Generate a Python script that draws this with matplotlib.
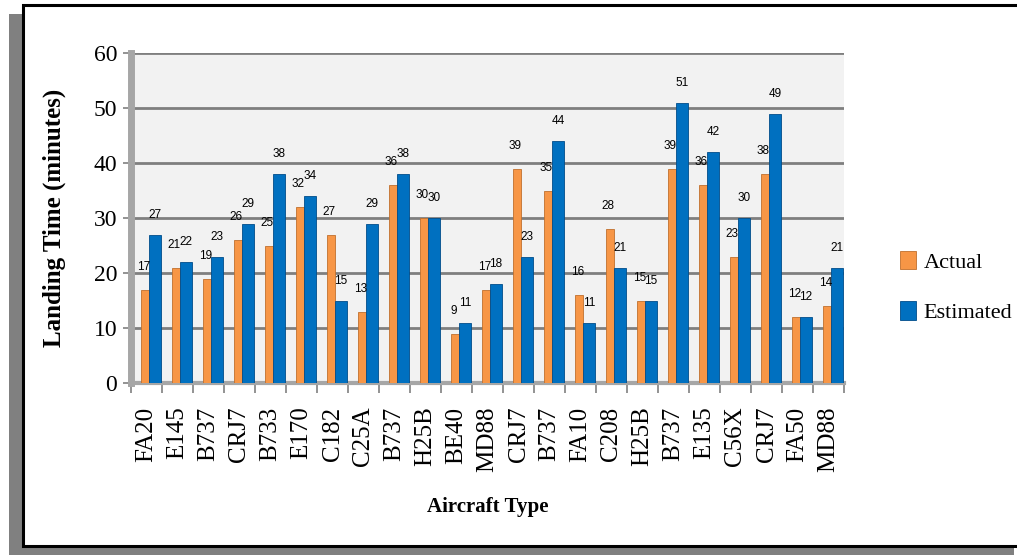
import matplotlib.pyplot as plt
import numpy as np
from matplotlib.patches import Rectangle

# aircraft types and landing times (minutes)
aircraft = ["FA20", "E145", "B737", "CRJ7", "B733", "E170", "C182", "C25A", "B737",
            "H25B", "BE40", "MD88", "CRJ7", "B737", "FA10", "C208", "H25B", "B737",
            "E135", "C56X", "CRJ7", "FA50", "MD88"]
actual = [17, 21, 19, 26, 25, 32, 27, 13, 36, 30, 9, 17, 39, 35, 16, 28, 15, 39, 36, 23, 38, 12, 14]
estimated = [27, 22, 23, 29, 38, 34, 15, 29, 38, 30, 11, 18, 23, 44, 11, 21, 15, 51, 42, 30, 49, 12, 21]

orange = "#F79646"
blue = "#0070C0"

fig = plt.figure(figsize=(10.17, 5.55), dpi=100)
W, H = 1017, 555

# frame with grey drop shadow
fig.patches.append(Rectangle((9 / W, 0), 1005 / W, 1 - 14 / H, transform=fig.transFigure,
                             facecolor="#808080", edgecolor="none", zorder=0))
fig.patches.append(Rectangle((23 / W, 1 - 546 / H), 1.0, 541 / H, transform=fig.transFigure,
                             facecolor="white", edgecolor="black", lw=2.2, zorder=1))

ax = fig.add_axes([131 / W, 1 - 383 / H, 713 / W, 330 / H])
ax.set_zorder(2)
ax.set_facecolor("#F2F2F2")

x = np.arange(len(aircraft))
ax.bar(x - 0.05, actual, width=0.26, color=orange, edgecolor="#C0702E", lw=0.6, zorder=3)
ax.bar(x + 0.27, estimated, width=0.38, color=blue, edgecolor="#004C8A", lw=0.6, zorder=3)

for i in range(len(aircraft)):
    ax.annotate(str(actual[i]), (x[i] - 0.1, actual[i]), xytext=(0, 12),
                textcoords="offset points", ha="center", va="bottom",
                fontsize=8.5, family="Liberation Sans", zorder=5)
    ax.annotate(str(estimated[i]), (x[i] + 0.27, estimated[i]), xytext=(0, 10),
                textcoords="offset points", ha="center", va="bottom",
                fontsize=8.5, family="Liberation Sans", zorder=5)

ax.set_xlim(-0.5, len(aircraft) - 0.5)
ax.set_ylim(0, 60)
ax.set_yticks(range(0, 61, 10))
ax.yaxis.grid(True, color="#7F7F7F", lw=2, zorder=1)
ax.set_axisbelow(True)

ax.set_xticks(x)
ax.set_xticklabels(aircraft, rotation=90, family="Liberation Serif", fontsize=18)
ax.set_xticks(np.arange(-0.5, len(aircraft)), minor=True)
ax.tick_params(axis="x", which="major", length=0, pad=17)
ax.tick_params(axis="x", which="minor", length=7, color="#808080", width=1.2)
ax.tick_params(axis="y", length=6, color="#808080", width=1.2, pad=4)
for lab in ax.get_yticklabels():
    lab.set_family("Liberation Serif")
    lab.set_fontsize(17)

for s in ["top", "right"]:
    ax.spines[s].set_visible(False)
ax.spines["left"].set_color("#A6A6A6")
ax.spines["left"].set_linewidth(5)
ax.spines["bottom"].set_color("#A6A6A6")
ax.spines["bottom"].set_linewidth(3)

ax.set_ylabel("Landing Time (minutes)", family="Liberation Serif", fontsize=18,
              fontweight="bold", labelpad=20)
fig.text(488 / W, 1 - 507 / H, "Aircraft Type", family="Liberation Serif", fontsize=15,
         fontweight="bold", ha="center", va="center")

ax.legend(["Actual", "Estimated"], loc="center left", bbox_to_anchor=(880 / W, 1 - 287 / H),
          bbox_transform=fig.transFigure, frameon=False, handlelength=0.7, handleheight=0.9,
          handletextpad=0.35, labelspacing=1.3, prop={"family": "Liberation Serif", "size": 16})

fig.savefig("out.png", dpi=100)
